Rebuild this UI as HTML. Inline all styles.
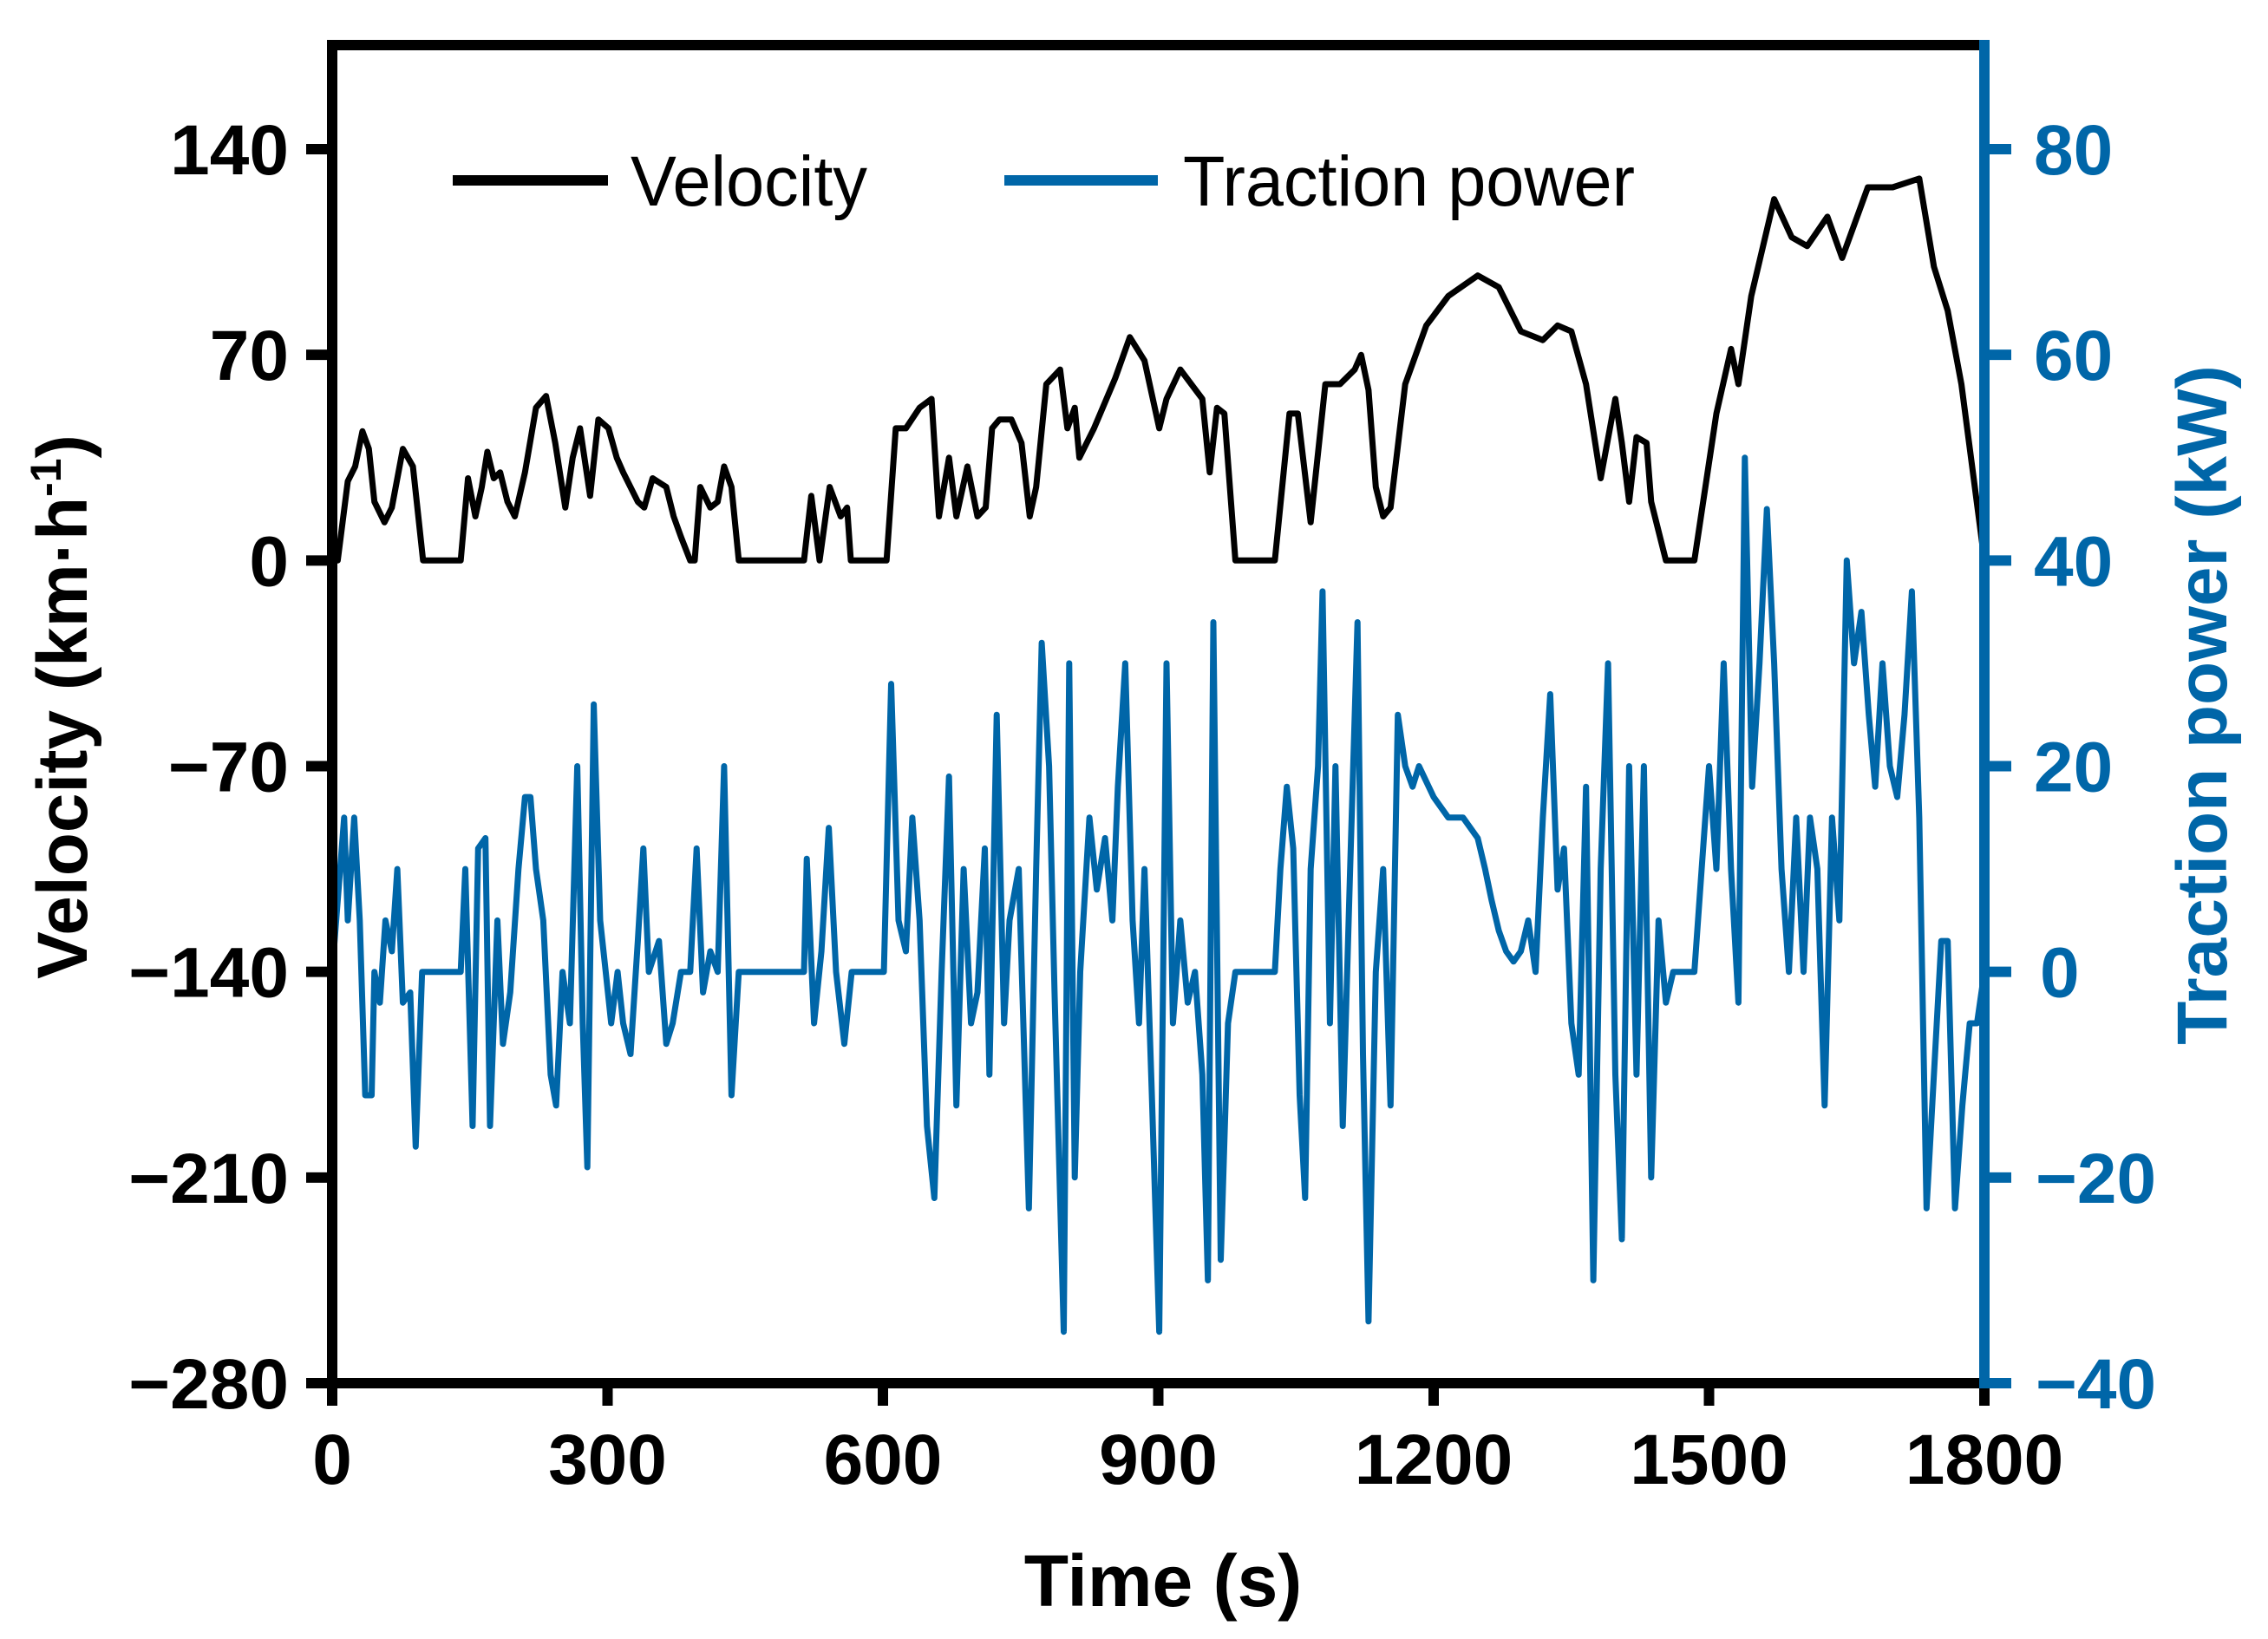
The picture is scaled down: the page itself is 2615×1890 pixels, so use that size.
<!DOCTYPE html>
<html><head><meta charset="utf-8"><style>
html,body{margin:0;padding:0;background:#fff}
svg{display:block}
text{font-family:"Liberation Sans",Arial,sans-serif}
</style></head><body>
<svg id="chart" width="2615" height="1890" viewBox="0 0 2615 1890" xmlns="http://www.w3.org/2000/svg">
<g id="plot"></g>
<g id="axes"></g>
<g id="legend">
  <line x1="522" y1="208" x2="701" y2="208" stroke="#000" stroke-width="12"/>
  <text x="727" y="237" font-size="82" textLength="273" lengthAdjust="spacingAndGlyphs">Velocity</text>
  <line x1="1158" y1="208" x2="1335" y2="208" stroke="#0066a8" stroke-width="12"/>
  <text x="1364" y="237" font-size="82" textLength="521" lengthAdjust="spacingAndGlyphs">Traction power</text>
</g>
<text x="1341" y="1852" font-size="84" font-weight="bold" text-anchor="middle">Time (s)</text>
<text transform="translate(100,815) rotate(-90)" font-size="82" font-weight="bold" text-anchor="middle">Velocity (km·h<tspan dy="-30" font-size="50">-1</tspan><tspan dy="30">)</tspan></text>
<text transform="translate(2567,813) rotate(-90)" font-size="82" font-weight="bold" text-anchor="middle" fill="#0066a8">Traction power (kW)</text>
</svg>
<script>
const timeV = [0,6,17,25,33,40,46,57,65,77,88,99,140,148,156,163,169,176,183,191,199,210,222,233,243,254,262,270,281,290,301,310,317,333,340,349,364,372,380,390,395,401,412,420,427,435,443,514,522,531,542,554,561,565,604,614,625,640,653,661,672,680,692,703,712,719,727,740,751,760,767,778,793,801,809,814,830,853,869,885,901,909,924,948,956,964,972,984,1027,1043,1052,1066,1082,1098,1114,1121,1129,1137,1145,1153,1169,1192,1216,1248,1271,1295,1319,1335,1350,1366,1382,1398,1405,1413,1421,1432,1437,1445,1453,1484,1508,1524,1532,1546,1571,1590,1607,1629,1645,1673,1700,1729,1745,1760,1775,1800];
const velocity = [0,0,27,32,44,38,20,13,18,38,32,0,0,28,15,25,37,28,30,20,15,30,52,56,40,18,35,45,22,48,45,35,30,20,18,28,25,15,8,0,0,25,18,20,32,25,0,0,22,0,25,15,18,0,0,45,45,52,55,15,35,15,32,15,18,45,48,48,40,15,25,60,65,45,52,35,45,62,76,68,45,55,65,55,30,52,50,0,0,50,50,13,60,60,65,70,58,25,15,18,60,80,90,97,93,78,75,80,78,60,28,55,40,20,42,40,20,10,0,0,50,72,60,90,123,110,107,117,103,127,127,130,100,85,60,0];
const timeP = [0,13,17,24,30,36,43,46,52,58,65,71,77,85,91,98,140,145,153,159,167,172,180,186,194,203,210,216,222,230,238,244,251,259,267,273,278,285,292,298,304,311,317,325,333,339,345,356,364,371,380,390,397,404,412,420,427,435,443,514,517,525,533,541,549,558,566,601,609,617,625,632,640,648,656,664,672,680,688,696,703,711,716,724,732,738,748,759,767,773,781,787,797,803,809,815,825,833,842,850,856,864,872,879,885,893,901,909,916,924,932,940,948,954,960,968,976,984,1027,1033,1040,1047,1054,1060,1066,1074,1079,1087,1093,1101,1109,1117,1123,1129,1137,1145,1153,1161,1169,1177,1184,1200,1216,1232,1248,1256,1263,1271,1279,1287,1295,1303,1311,1319,1327,1335,1342,1350,1358,1366,1374,1382,1390,1398,1405,1413,1421,1429,1437,1445,1453,1461,1484,1492,1500,1508,1516,1524,1532,1539,1547,1555,1563,1571,1579,1587,1595,1603,1610,1618,1626,1634,1642,1650,1658,1666,1674,1681,1689,1697,1705,1713,1721,1729,1737,1745,1753,1760,1768,1776,1784,1792,1800];
const power = [0,15,5,15,5,-12,-12,0,-3,5,2,10,-3,-2,-17,0,0,10,-15,12,13,-15,5,-7,-2,10,17,17,10,5,-10,-13,0,-5,20,-5,-19,26,5,0,-5,0,-5,-8,3,12,0,3,-7,-5,0,0,12,-2,2,0,20,-12,0,0,11,-5,2,14,0,-7,0,0,28,5,2,15,5,-15,-22,0,19,-13,10,-5,-2,12,-10,25,-5,5,10,-23,10,32,20,-2,-35,30,-20,0,15,8,13,5,18,30,5,-5,10,-12,-35,30,-5,5,-3,0,-10,-30,34,-28,-5,0,0,10,18,12,-12,-22,10,20,37,-5,20,-15,10,34,-8,-34,0,10,-13,25,20,18,20,17,15,15,13,10,7,4,2,1,2,5,0,15,27,8,12,-5,-10,18,-30,10,30,-10,-26,20,-10,20,-20,5,-3,0,0,10,20,10,30,10,-3,50,18,30,45,30,10,0,15,0,15,10,-13,15,5,40,30,35,25,18,30,20,17,25,37,15,-23,-10,3,3,-23,-13,-5,-5,0];
const xTicks = [0,300,600,900,1200,1500,1800];
const vTicks = [140,70,0,-70,-140,-210,-280];
const pTicks = [80,60,40,20,0,-20,-40];

const NS = 'http://www.w3.org/2000/svg';
const X0 = 383, X1 = 2288, YTOP = 52, YBOT = 1595, Y140 = 172;
const BLUE = '#0066a8';
function xs(t){ return X0 + (t - 0) / 1800 * (X1 - X0); }
function yv(v){ return YBOT - (v + 280) / 420 * (YBOT - Y140); }
function yp(p){ return YBOT - (p + 40) / 120 * (YBOT - Y140); }
function mk(tag, attrs, parent){
  const el = document.createElementNS(NS, tag);
  for (const k in attrs) el.setAttribute(k, attrs[k]);
  parent.appendChild(el);
  return el;
}
const plotG = document.getElementById('plot');
const axesG = document.getElementById('axes');

const dP = timeP.map((t,i)=>(i?'L':'M')+xs(t).toFixed(1)+' '+yp(power[i]).toFixed(1)).join(' ');
const powerLine = mk('path', {d:dP, fill:'none', stroke:BLUE, 'stroke-width':7, 'stroke-linejoin':'round'}, plotG);



const dV = timeV.map((t,i)=>(i?'L':'M')+xs(t).toFixed(1)+' '+yv(velocity[i]).toFixed(1)).join(' ');
const velLine = mk('path', {d:dV, fill:'none', stroke:'#000', 'stroke-width':7, 'stroke-linejoin':'round'}, plotG);



const frameTop = mk('line', {x1:X0-6, y1:YTOP, x2:X1, y2:YTOP, stroke:'#000', 'stroke-width':12}, axesG);


const frameBot = mk('line', {x1:X0-6, y1:YBOT, x2:X1, y2:YBOT, stroke:'#000', 'stroke-width':12}, axesG);


const leftAxis = mk('line', {x1:X0, y1:YTOP-6, x2:X0, y2:YBOT+6, stroke:'#000', 'stroke-width':12}, axesG);



xTicks.forEach(t=>{
  const tk = mk('line', {x1:xs(t), y1:YBOT, x2:xs(t), y2:YBOT+26, stroke:'#000', 'stroke-width':12}, axesG);
  
  
  const lb = mk('text', {x:xs(t), y:1711, 'font-size':82, 'font-weight':'bold', 'text-anchor':'middle'}, axesG);
  
  
  lb.textContent = t;
});
vTicks.forEach(v=>{
  const tk = mk('line', {x1:X0-30, y1:yv(v), x2:X0, y2:yv(v), stroke:'#000', 'stroke-width':12}, axesG);
  
  
  const lb = mk('text', {x:333, y:yv(v)+29, 'font-size':82, 'font-weight':'bold', 'text-anchor':'end'}, axesG);
  
  
  lb.textContent = String(v).replace('-', '\u2212');
});
const rightAxis = mk('line', {x1:X1, y1:YTOP-6, x2:X1, y2:YBOT+6, stroke:BLUE, 'stroke-width':12}, axesG);


pTicks.forEach(p=>{
  const tk = mk('line', {x1:X1, y1:yp(p), x2:X1+31, y2:yp(p), stroke:BLUE, 'stroke-width':12}, axesG);
  
  
  const lb = mk('text', {x:p<0?2347:(p===0?2352:2345), y:yp(p)+29, 'font-size':82, 'font-weight':'bold', fill:BLUE}, axesG);
  
  
  lb.textContent = String(p).replace('-', '\u2212');
});
</script>
</body></html>
